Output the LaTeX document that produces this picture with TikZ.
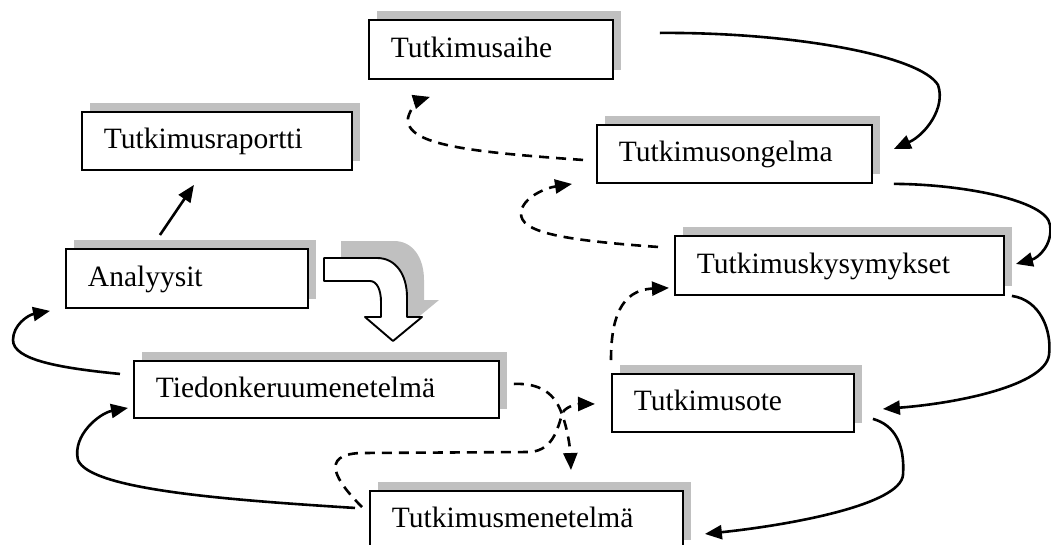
\documentclass[tikz,border=0pt]{standalone}
\usepackage{fontspec}
\setmainfont{Liberation Serif}
\usetikzlibrary{arrows.meta,shadows,calc}
\definecolor{shgray}{HTML}{C0C0C0}
\begin{document}
\begin{tikzpicture}[x=1pt,y=-1pt,
  box/.style={draw, line width=1.9pt, fill=white, anchor=north west, inner xsep=22pt, inner ysep=0pt,
    text height=20pt, text depth=4pt, align=left, font=\fontsize{29.5}{34}\selectfont,
    drop shadow={shadow xshift=8pt, shadow yshift=9pt, fill=shgray, opacity=1}},
  conn/.style={line width=2.6pt, -{Triangle[length=17pt,width=14pt]}},
  dconn/.style={conn, dash pattern=on 10pt off 7pt},
  blockarrow/.style={line width=1.9pt, line join=round}
]
\useasboundingbox (0,0) rectangle (1051,544);

% boxes
\node[box, minimum width=244pt, minimum height=59pt, text width=200pt] (aihe) at (368,19) {Tutkimusaihe};
\node[box, minimum width=275pt, minimum height=58pt, text width=231pt] (ongelma) at (596,124) {Tutkimusongelma};
\node[box, minimum width=329pt, minimum height=59pt, text width=285pt] (kysym) at (674,235) {Tutkimuskysymykset};
\node[box, minimum width=270pt, minimum height=58pt, text width=226pt] (raportti) at (81,111) {Tutkimusraportti};
\node[box, minimum width=242pt, minimum height=59pt, text width=198pt] (analyysit) at (65,248) {Analyysit};
\node[box, minimum width=365pt, minimum height=57pt, text width=321pt] (tiedon) at (133,360) {Tiedonkeruumenetelmä};
\node[box, minimum width=242pt, minimum height=58pt, text width=198pt] (ote) at (611,373) {Tutkimusote};
\node[box, minimum width=313pt, minimum height=58pt, text width=269pt] (menet) at (369,490) {Tutkimusmenetelmä};

% curved block arrow with its shadow
\begin{scope}[shift={(17,-17)}]
\fill[shgray] (324,258) -- (377,258) .. controls (396,258) and (407,275) .. (407,297) -- (407,317) -- (422,317) -- (393,341) -- (365,317) -- (381,317) -- (381,302) .. controls (381,290) and (377,281) .. (370,281) -- (324,281) -- cycle;
\end{scope}
\draw[blockarrow, fill=white] (324,258) -- (377,258) .. controls (396,258) and (407,275) .. (407,297) -- (407,317) -- (422,317) -- (393,341) -- (365,317) -- (381,317) -- (381,302) .. controls (381,290) and (377,281) .. (370,281) -- (324,281) -- cycle;

% solid connectors
\draw[conn] ($(aihe.east)+(46,-16.5)$) .. controls (790,32) and (920,55) .. (938,85) .. controls (946,108) and (925,135) .. ($(ongelma.east)+(21,-5)$);
\draw[conn] ($(ongelma.south east)+(21,0)$) .. controls (960,184) and (1047,200) .. (1050,225) .. controls (1053,245) and (1038,258) .. ($(kysym.east)+(11,-1.5)$);
\draw[conn] ($(kysym.south east)+(7,0)$) .. controls (1040,300) and (1052,330) .. (1049,355) .. controls (1045,385) and (960,403) .. ($(ote.east)+(28,6)$);
\draw[conn] ($(ote.south east)+(18,-14)$) .. controls (895,425) and (905,445) .. (903,475) .. controls (900,505) and (790,525) .. ($(menet.east)+(21,14)$);
\draw[conn] ($(menet.west)+(-14,-12)$) .. controls (230,500) and (90,490) .. (78,460) .. controls (72,435) and (100,413) .. ($(tiedon.west)+(-5,18.5)$);
\draw[conn] ($(tiedon.west)+(-13,-15.5)$) .. controls (60,368) and (13,360) .. (13,340) .. controls (13,325) and (28,315) .. ($(analyysit.south west)+(-15,2)$);
\draw[conn] ($(analyysit.north)+(-27,-13)$) -- ($(raportti.south)+(-23,14)$);

% dashed connectors
\draw[dconn] ($(ongelma.west)+(-13,6)$) .. controls (470,152) and (405,145) .. (408,118) .. controls (410,108) and (420,100) .. ($(aihe.south west)+(62,17)$);
\draw[dconn] ($(kysym.west)+(-16,-18.5)$) .. controls (560,240) and (520,232) .. (521,213) .. controls (522,198) and (545,188) .. ($(ongelma.west)+(-24,30)$);
\draw[dconn] ($(ote.north west)+(0,-13)$) .. controls (611,320) and (620,290) .. ($(kysym.south west)+(-5,-8)$);
\draw[dconn] ($(tiedon.east)+(14,-5.5)$) .. controls (535,383) and (550,390) .. (558,405) .. controls (566,420) and (570,445) .. ($(menet.north west)+(202,-20)$);
\draw[dconn] ($(menet.north west)+(-7,17)$) .. controls (335,480) and (320,455) .. (360,453) -- (530,452) .. controls (555,450) and (558,425) .. (563,412) .. controls (567,406) and (578,404) .. ($(ote.west)+(-16,1)$);
\end{tikzpicture}
\end{document}
